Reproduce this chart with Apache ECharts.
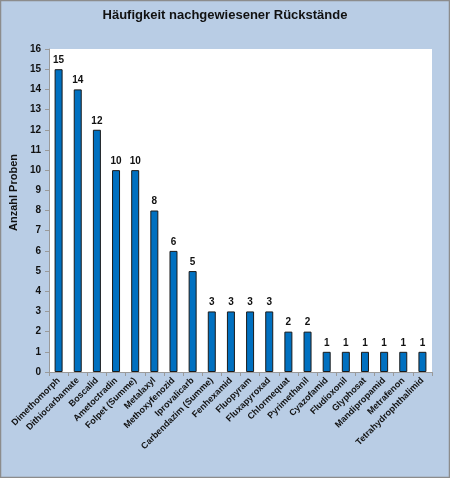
<!DOCTYPE html>
<html><head><meta charset="utf-8">
<script src="https://cdn.jsdelivr.net/npm/echarts@6/dist/echarts.min.js"></script>
<style>html,body{margin:0;padding:0;}#c{width:450px;height:478px;}</style>
</head><body><div id="c"></div>
<script>
const categories = ["Dimethomorph","Dithiocarbamate","Boscalid","Ametoctradin","Folpet (Summe)","Metalaxyl","Methoxyfenozid","Iprovalicarb","Carbendazim (Summe)","Fenhexamid","Fluopyram","Fluxapyroxad","Chlormequat","Pyrimethanil","Cyazofamid","Fludioxonil","Glyphosat","Mandipropamid","Metrafenon","Tetrahydrophthalimid"];
const values = [15,14,12,10,10,8,6,5,3,3,3,3,2,2,1,1,1,1,1,1];
const yTicks = {min:0, max:16, interval:1};
const titleText = "Häufigkeit nachgewiesener Rückstände";
const yName = "Anzahl Proben";

const chart = echarts.init(document.getElementById('c'), null, {renderer:'canvas'});
chart.setOption({
  backgroundColor: '#b9cde5',
  animation: false,
  textStyle: {fontFamily: 'Liberation Sans, Arial, sans-serif'},
  graphic: [{type:'rect', shape:{x:0.5,y:0.5,width:449,height:477}, style:{fill:'none', stroke:'#8c8c8c', lineWidth:1.5}, silent:true}],
  title: {text: titleText, left: 'center', top: 4, textStyle:{fontSize:13, fontWeight:'bold', color:'#111', fontFamily:'Liberation Sans, Arial, sans-serif'}},
  grid: {left:46, right:18, top:49, bottom:106, show:true, backgroundColor:'#ffffff', borderWidth:0},
  xAxis: {type:'category', data: categories,
    axisLine:{lineStyle:{color:'#9a9a9a'}},
    axisTick:{show:true, alignWithLabel:false, length:4, lineStyle:{color:'#9a9a9a'}},
    axisLabel:{rotate:45, interval:0, fontSize:9, fontWeight:'bold', color:'#111', margin:7}},
  yAxis: {type:'value', min:yTicks.min, max:yTicks.max, interval:yTicks.interval,
    name: yName, nameLocation:'middle', nameGap:29, nameRotate:90,
    nameTextStyle:{fontSize:11, fontWeight:'bold', color:'#111', padding:[0,0,0,36]},
    axisLine:{show:true, lineStyle:{color:'#9a9a9a'}},
    axisTick:{show:true, length:4, lineStyle:{color:'#9a9a9a'}},
    splitLine:{show:false},
    axisLabel:{fontSize:10, fontWeight:'bold', color:'#111', margin:8}},
  series: [{type:'bar', data: values, barWidth:8,
    itemStyle:{color:'#0070c0', borderColor:'#1a1a1a', borderWidth:1},
    label:{show:true, position:'top', fontSize:10, fontWeight:'bold', color:'#111', distance:4}}]
});
</script></body></html>
